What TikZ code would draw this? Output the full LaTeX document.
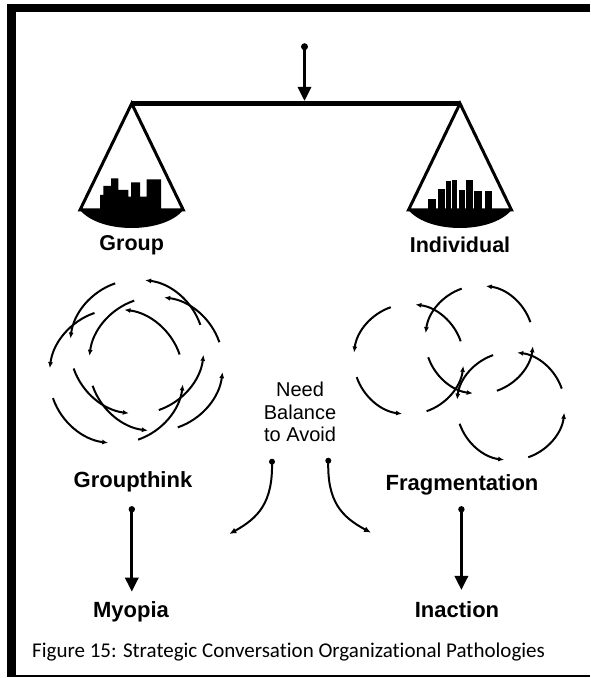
\documentclass[tikz,border=0pt]{standalone}
\usepackage{fontspec}
\setmainfont{Liberation Sans}
\newfontfamily\capfont[Ligatures=NoCommon]{Carlito}
\usetikzlibrary{arrows.meta,calc}
\begin{document}
\begin{tikzpicture}[x=1pt,y=1pt,
  lbl/.style={font=\fontsize{22}{26}\selectfont\bfseries, inner sep=0pt, anchor=base},
  panlbl/.style={font=\fontsize{21.5}{25}\selectfont\bfseries, inner sep=0pt, anchor=base},
  midtxt/.style={font=\fontsize{20}{24}\selectfont, inner sep=0pt, anchor=base},
  captxt/.style={font=\capfont\fontsize{21}{25}\selectfont, inner sep=0pt, anchor=base west},
  ringarc/.style={line width=2pt, -{Latex[length=6pt,width=5pt]}},
  bigarrow/.style={line width=3.2pt, -{Triangle[length=14pt,width=13pt]}},
  curvearrow/.style={line width=2pt, -{Latex[length=7pt,width=6pt]}},
  scaleline/.style={line width=3pt, line join=miter},
]
\useasboundingbox (0,0) rectangle (590,678);
\fill[white] (0,0) rectangle (590,678);
% frame
\fill (7,2) rectangle (16,674);
\fill (7,666) rectangle (590,674);
\draw[line width=1.5pt] (7,2) -- (590,2);

% balance
\coordinate (pivot) at (304.5,631.3);
\coordinate (beamtop) at (304.5,577);
\coordinate (lapex) at (131.7,574.5);
\coordinate (rapex) at (460,574.5);
\draw[line width=5pt] (lapex) -- (rapex);
\draw[bigarrow] (pivot) -- (beamtop);
\fill (pivot) circle (3.5);

% left pan
\draw[scaleline] (80,468) -- (lapex) -- (183.3,468) -- cycle;
\fill (80,468) .. controls (100,444) and (163.3,444) .. (183.3,468) -- cycle;
\fill (100,468) -- (100,483) -- (103.3,483) -- (103.3,492) -- (111,492) -- (111,499.7)
  -- (118.3,499.7) -- (118.3,488) -- (128.3,488) -- (128.3,481.3) -- (131,481.3)
  -- (131,495.7) -- (140,495.7) -- (140,481.3) -- (146.7,481.3) -- (146.7,498.7)
  -- (161,498.7) -- (161,468) -- cycle;

% right pan
\draw[scaleline] (408.5,468) -- (rapex) -- (511.5,468) -- cycle;
\fill (408.5,468) .. controls (428.5,444) and (491.5,444) .. (511.5,468) -- cycle;
\foreach \a/\b/\h in {428.3/435.7/479, 438.3/445/489, 446/451/497, 451.6/457.3/498,
  459.3/465/488, 466/473.3/498, 474/481.7/487, 485/491.7/487}
  \fill (\a,468) rectangle (\b,\h);

\node[panlbl] (group) at (131.7,427) {Group};
\node[panlbl] (indiv) at (460,425) {Individual};

% rings
\foreach \cx/\cy/\r [count=\i] in {137/331.3/67, 116.3/301.7/67, 156/314/67,
  408.7/318.8/55, 479.3/338.3/54, 510.7/271.8/54} {
  \coordinate (ring\i) at (\cx,\cy);
  \foreach \k in {0,90,180,270} {
    \draw[ringarc] (ring\i) ++(19+\k:\r) arc[start angle=19+\k, end angle=83+\k, radius=\r];
  }
}

% middle text
\node[midtxt] (need) at (300,281) {Need};
\node[midtxt] (bal) at (300,258.5) {Balance};
\node[midtxt] (avoid) at (300,236) {to Avoid};

\coordinate (ldot) at (272,216.3);
\coordinate (ltip) at (229.3,144);
\coordinate (rdot) at (328.3,217.3);
\coordinate (rtip) at (371,145.3);
\draw[curvearrow] (ldot) .. controls (273,175) and (258,160) .. (ltip);
\draw[curvearrow] (rdot) .. controls (327,176) and (342,161) .. (rtip);
\fill (ldot) circle (3);
\fill (rdot) circle (3);

% lower labels
\node[lbl] (gthink) at (133,190) {Groupthink};
\node[lbl] (frag) at (462,187) {Fragmentation};
\node[lbl] (myopia) at (131,60) {Myopia};
\node[lbl] (inaction) at (457,60) {Inaction};

\coordinate (gdot) at (131.8,168.7);
\coordinate (gtip) at (131.8,86.3);
\coordinate (fdot) at (461.4,168.7);
\coordinate (ftip) at (461.4,88);
\draw[bigarrow] (gdot) -- (gtip);
\draw[bigarrow] (fdot) -- (ftip);
\fill (gdot) circle (3.2);
\fill (fdot) circle (3.2);

\node[captxt] (caption) at (32,20) {Figure 15: Strategic Conversation Organizational Pathologies};
\end{tikzpicture}
\end{document}
